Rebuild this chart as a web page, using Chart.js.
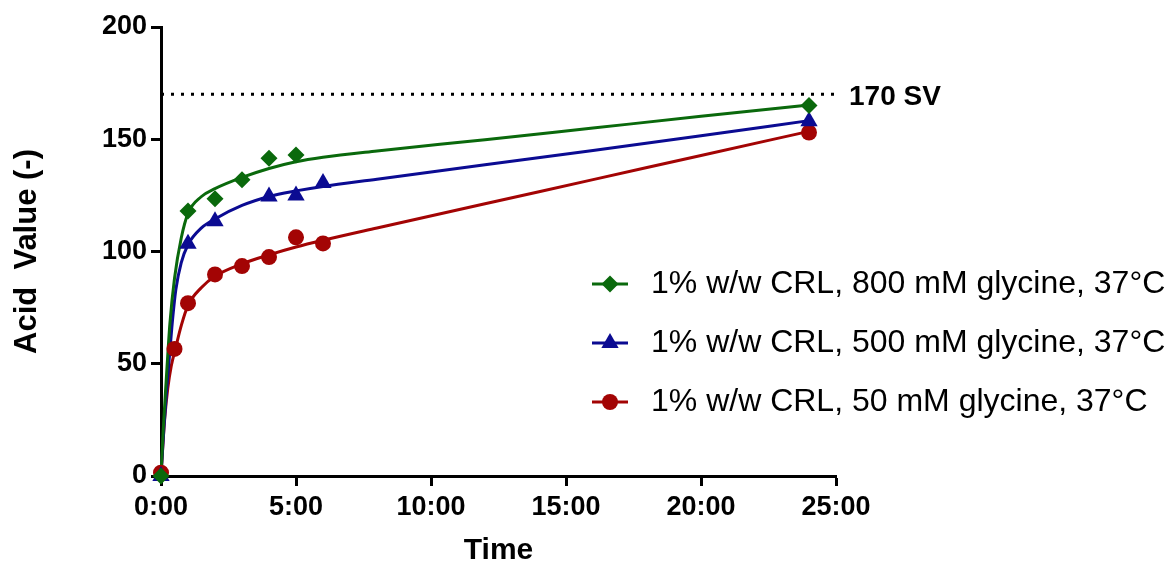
<!DOCTYPE html>
<html>
<head>
<meta charset="utf-8">
<script src="https://cdn.jsdelivr.net/npm/chart.js@4"></script>
<style>
  html, body { margin: 0; padding: 0; background: #fff; }
</style>
</head>
<body>
<canvas id="acid" width="1168" height="566"></canvas>
<script>
// measured points (hours, acid value)
const greenTimes = [0, 1, 2, 3, 4, 5, 24];
const greenAcid = [0, 118, 123.5, 132, 141.5, 143, 165];
const blueTimes = [0, 1, 2, 4, 5, 6, 24];
const blueAcid = [0, 103.5, 113.5, 124.5, 125, 130.5, 158];
const redTimes = [0, 0.5, 1, 2, 3, 4, 5, 6, 24];
const redAcid = [1.5, 56.6, 77, 89.8, 93.5, 97.5, 106.3, 103.6, 153];

// fitted curves
const greenFitTimes = [0, 0.08, 0.19, 0.33, 0.5, 0.75, 1, 1.5, 2, 3, 4, 5, 6, 8, 12, 16, 20, 24];
const greenFit = [0, 20, 42, 68, 88, 106, 117, 124.5, 128, 133, 137, 140, 142, 144.8, 149.8, 155, 160.2, 165.3];
const blueFitTimes = [0, 0.1, 0.22, 0.4, 0.55, 0.75, 1, 1.5, 2, 3, 4, 5, 6, 8, 12, 16, 20, 24];
const blueFit = [0, 20, 40, 66, 83, 95, 103, 110.5, 114.5, 120.5, 124.5, 127, 129, 132.2, 138.6, 145, 151.6, 158.3];
const redFitTimes = [0, 0.06, 0.14, 0.25, 0.38, 0.54, 0.75, 1, 1.5, 2, 3, 4, 5, 6, 8, 12, 16, 20, 24];
const redFit = [0, 12, 26, 39, 49, 57, 67, 76, 84, 89, 94.5, 98.5, 102, 105, 110.5, 121.3, 132, 142.8, 153.5];

const seriesLabels = [
  "1% w/w CRL, 800 mM glycine, 37°C",
  "1% w/w CRL, 500 mM glycine, 37°C",
  "1% w/w CRL, 50 mM glycine, 37°C"
];
const refLevel = 170;
const refLabel = "170 SV";
const yTicks = [0, 50, 100, 150, 200];
const xTicks = [0, 5, 10, 15, 20, 25];

const GREEN = "#0a690c";
const BLUE = "#0b0b92";
const RED = "#a30404";
const FONT = '"Liberation Sans", Arial, sans-serif';

const colors = [GREEN, BLUE, RED];
const styles = [
  { pointStyle: "rectRot", radius: 8.5 },
  { pointStyle: "triangle", radius: 10 },
  { pointStyle: "circle", radius: 8 }
];

function pts(xs, ys) {
  return xs.map((x, i) => ({ x: x, y: ys[i] }));
}

function pointSet(i, xs, ys) {
  return {
    label: seriesLabels[i],
    data: pts(xs, ys),
    showLine: false,
    pointStyle: styles[i].pointStyle,
    pointRadius: styles[i].radius,
    pointBorderWidth: 0,
    backgroundColor: colors[i],
    borderColor: colors[i],
    clip: false
  };
}

function curveSet(i, xs, ys) {
  return {
    label: "fit " + i,
    data: pts(xs, ys),
    showLine: true,
    pointRadius: 0,
    borderColor: colors[i],
    borderWidth: 3,
    cubicInterpolationMode: "monotone",
    fill: false,
    clip: false
  };
}

// legend inside the plot + reference label
const extras = {
  id: "extras",
  afterDraw(chart) {
    const ctx = chart.ctx;
    const area = chart.chartArea;
    const y = chart.scales.y;
    ctx.save();
    ctx.fillStyle = "#000";
    ctx.font = "bold 28px " + FONT;
    ctx.textBaseline = "middle";
    ctx.textAlign = "left";
    ctx.fillText(refLabel, area.right + 13, y.getPixelForValue(refLevel) + 3);

    ctx.font = "32px " + FONT;
    seriesLabels.forEach((lab, i) => {
      const ly = 284 + i * 59;
      ctx.strokeStyle = colors[i];
      ctx.lineWidth = 3;
      ctx.beginPath();
      ctx.moveTo(592, ly);
      ctx.lineTo(628, ly);
      ctx.stroke();
      ctx.fillStyle = colors[i];
      Chart.helpers.drawPoint(ctx, {
        pointStyle: styles[i].pointStyle,
        radius: styles[i].radius,
        rotation: 0,
        borderWidth: 0
      }, 610, ly);
      ctx.fillStyle = "#000";
      ctx.fillText(lab, 651, ly);
    });
    ctx.restore();
  }
};

const config = {
  type: "scatter",
  data: {
    datasets: [
      pointSet(0, greenTimes, greenAcid),
      pointSet(1, blueTimes, blueAcid),
      pointSet(2, redTimes, redAcid),
      curveSet(0, greenFitTimes, greenFit),
      curveSet(1, blueFitTimes, blueFit),
      curveSet(2, redFitTimes, redFit),
      {
        label: "ref",
        data: [{ x: xTicks[0], y: refLevel }, { x: xTicks[xTicks.length - 1], y: refLevel }],
        showLine: true,
        pointRadius: 0,
        borderColor: "#000",
        borderWidth: 3,
        borderDash: [3, 7],
        clip: false
      }
    ]
  },
  options: {
    responsive: false,
    animation: false,
    layout: { padding: { top: 27, right: 332, bottom: 0, left: 0 } },
    plugins: {
      legend: { display: false },
      tooltip: { enabled: false }
    },
    scales: {
      x: {
        type: "linear",
        min: xTicks[0],
        max: xTicks[xTicks.length - 1],
        afterBuildTicks: (s) => { s.ticks = xTicks.map((v) => ({ value: v })); },
        afterFit: (s) => { s.height = 90; },
        ticks: {
          color: "#000",
          font: { family: FONT, size: 27, weight: "bold" },
          padding: 5,
          maxRotation: 0,
          callback: (v) => v + ":00"
        },
        grid: {
          display: true,
          drawOnChartArea: false,
          drawTicks: true,
          tickLength: 10,
          tickWidth: 3,
          tickColor: "#000"
        },
        border: { display: true, color: "#000", width: 3 },
        title: {
          display: true,
          text: "Time",
          color: "#000",
          font: { family: FONT, size: 30, weight: "bold", lineHeight: 1 },
          padding: { top: 0, bottom: 0 }
        }
      },
      y: {
        min: yTicks[0],
        max: yTicks[yTicks.length - 1],
        afterBuildTicks: (s) => { s.ticks = yTicks.map((v) => ({ value: v })); },
        afterFit: (s) => { s.width = 161; },
        ticks: {
          color: "#000",
          font: { family: FONT, size: 27, weight: "bold" },
          padding: 4
        },
        grid: {
          display: true,
          drawOnChartArea: false,
          drawTicks: true,
          tickLength: 10,
          tickWidth: 3,
          tickColor: "#000"
        },
        border: { display: true, color: "#000", width: 3 },
        title: {
          display: true,
          text: "Acid  Value (-)",
          color: "#000",
          font: { family: FONT, size: 31, weight: "bold" },
          padding: { top: 9, bottom: 0 }
        }
      }
    }
  },
  plugins: [extras]
};

new Chart(document.getElementById("acid"), config);
</script>
</body>
</html>
